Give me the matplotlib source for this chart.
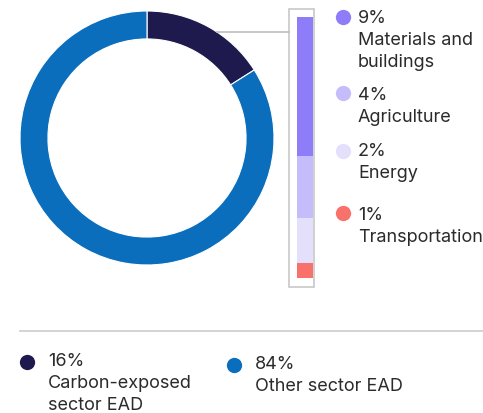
import matplotlib
import matplotlib.pyplot as plt
from matplotlib.patches import Rectangle
from matplotlib.lines import Line2D
matplotlib.use('Agg')

plt.rcParams['font.family'] = ['Inter', 'DejaVu Sans']

# donut data
donut_labels = ['Carbon-exposed\nsector EAD', 'Other sector EAD']
donut_pct = ['16%', '84%']
donut_values = [16, 84]
donut_colors = ['#1e1a4d', '#0a6ebd']

# breakdown of the carbon-exposed share (top to bottom)
sector_labels = ['Materials and\nbuildings', 'Agriculture', 'Energy', 'Transportation']
sector_pct = ['9%', '4%', '2%', '1%']
sector_values = [8.5, 3.8, 2.8, 0.9]
sector_colors = ['#8d7df8', '#c5bdfb', '#e4e0fc', '#f8716a']

W, H = 483, 413
TEXT = '#2b2b2b'
FS = 13


def fx(x):
    return x / W


def fy(y):
    return 1 - y / H


def dot(x, y, c):
    fig.add_artist(Line2D([fx(x)], [fy(y)], marker='o', markersize=11,
                          color=c, markeredgewidth=0,
                          transform=fig.transFigure))


def entry(x, base, pct, lab):
    # percentage line, then label lines 22 px apart (baselines)
    fig.text(fx(x), fy(base), pct, color=TEXT, fontsize=FS, va='baseline')
    for i, line in enumerate(lab.split('\n')):
        fig.text(fx(x), fy(base + 22 * (i + 1)), line, color=TEXT,
                 fontsize=FS, va='baseline')


fig = plt.figure(figsize=(W / 100, H / 100), dpi=100)

# donut
ax = fig.add_axes([fx(20), fy(265), 254 / W, 254 / H])
ax.pie(donut_values, colors=donut_colors, startangle=90, counterclock=False,
       radius=1, wedgeprops=dict(width=0.22, edgecolor='white', linewidth=0.8))
ax.set_xlim(-1, 1)
ax.set_ylim(-1, 1)
ax.axis('off')

# connector line and box
fig.add_artist(Line2D([fx(217), fx(289)], [fy(32), fy(32)],
                      color='#bdbdbd', lw=1.2, transform=fig.transFigure))
fig.add_artist(Rectangle((fx(289), fy(287)), 25 / W, 278 / H,
                         fill=False, edgecolor='#c8c8c8', lw=1.2,
                         transform=fig.transFigure))

# stacked bar
bx = fig.add_axes([fx(297), fy(278), 16 / W, 261 / H])
bottom = 0
for v, c in zip(sector_values[::-1], sector_colors[::-1]):
    bx.bar(0, v, bottom=bottom, width=1, color=c, linewidth=0)
    bottom += v
bx.set_xlim(-0.5, 0.5)
bx.set_ylim(0, sum(sector_values))
bx.axis('off')

# right legend
dot_y = [17, 93, 151, 213]
base_y = [23, 100, 156, 220]
for dy, by, p, lab, c in zip(dot_y, base_y, sector_pct, sector_labels,
                             sector_colors):
    dot(343, dy, c)
    entry(358, by, p, lab)

# bottom rule and legend
fig.add_artist(Line2D([fx(20), fx(483)], [fy(331), fy(331)],
                      color='#cccccc', lw=1.2, transform=fig.transFigure))
for x, dy, by, p, lab, c in zip([27, 234], [362, 365], [366, 369],
                                donut_pct, donut_labels, donut_colors):
    dot(x, dy, c)
    entry(x + 21, by, p, lab)

fig.savefig('out.png', dpi=100)
